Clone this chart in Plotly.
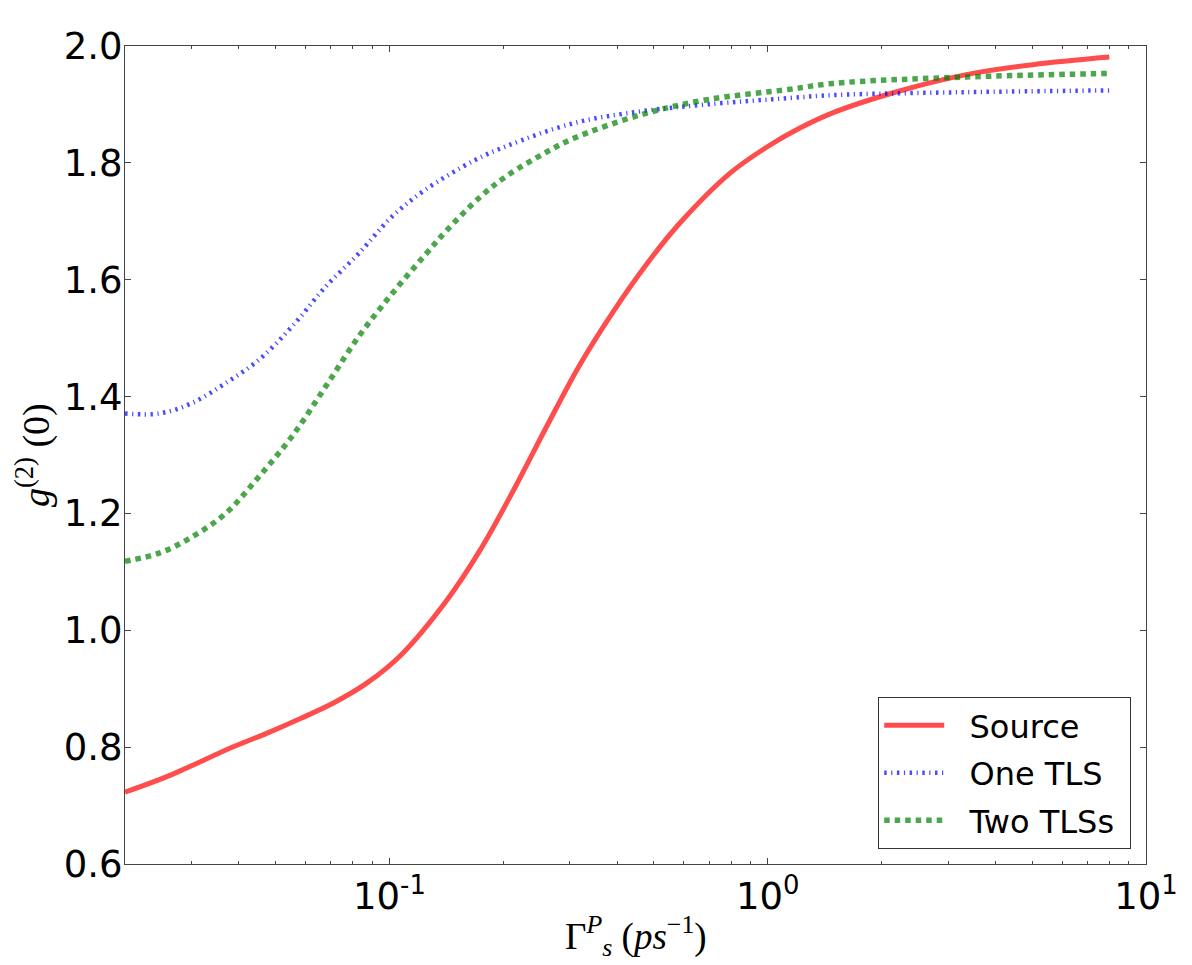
import plotly.graph_objects as go

# ---- data ----
source_x = [0.02, 0.0259, 0.0388, 0.0475, 0.0582, 0.0713, 0.0873, 0.107, 0.142, 0.174, 0.213,
            0.261, 0.319, 0.391, 0.479, 0.586, 0.794, 1.0, 1.22, 1.49, 2.23, 3.35, 5.02, 8.0]
source_y = [0.723, 0.750, 0.801, 0.824, 0.849, 0.876, 0.910, 0.957, 1.052, 1.138, 1.240,
            1.350, 1.455, 1.546, 1.627, 1.697, 1.782, 1.828, 1.860, 1.886, 1.923, 1.951,
            1.968, 1.981]

one_x = [0.02, 0.0246, 0.0301, 0.0369, 0.0452, 0.0553, 0.0678, 0.083, 0.1016, 0.1245, 0.1687,
         0.2046, 0.307, 0.460, 0.690, 1.146, 1.49, 3.35, 8.0]
one_y = [1.371, 1.371, 1.389, 1.423, 1.463, 1.520, 1.588, 1.645, 1.708, 1.754, 1.805,
         1.829, 1.868, 1.888, 1.900, 1.911, 1.916, 1.921, 1.924]

two_x = [0.02, 0.0246, 0.0301, 0.0369, 0.0452, 0.0553, 0.0678, 0.083, 0.1016, 0.1245, 0.142,
         0.174, 0.2046, 0.261, 0.307, 0.460, 0.690, 1.146, 1.49, 3.35, 8.0]
two_y = [1.118, 1.132, 1.160, 1.200, 1.263, 1.332, 1.417, 1.503, 1.576, 1.643, 1.685,
         1.742, 1.778, 1.819, 1.842, 1.882, 1.908, 1.926, 1.936, 1.947, 1.953]

series_names = ["Source", "One TLS", "Two TLSs"]
x_tickvals = [0.1, 1, 10]
x_ticktext = ["10<sup>-1</sup>", "10<sup>0</sup>", "10<sup>1</sup>"]
x_minor_tickvals = [0.02, 0.03, 0.04, 0.05, 0.06, 0.07, 0.08, 0.09,
                    0.2, 0.3, 0.4, 0.5, 0.6, 0.7, 0.8, 0.9,
                    2, 3, 4, 5, 6, 7, 8, 9]
y_tickvals = [0.6, 0.8, 1.0, 1.2, 1.4, 1.6, 1.8, 2.0]

pad = "\u00a0\u00a0"
fig = go.Figure()
fig.add_trace(go.Scatter(x=source_x, y=source_y, mode="lines",
                         name=pad + series_names[0] + "\u00a0", legendgroup="a",
                         line=dict(color="rgba(255,0,0,0.7)", width=5, shape="spline")))
fig.add_trace(go.Scatter(x=one_x, y=one_y, mode="lines",
                         name=pad + series_names[1] + "\u00a0", legendgroup="b",
                         line=dict(color="rgba(0,0,255,0.7)", width=4.5, shape="spline",
                                   dash="2.5px,4.5px,1.2px,4.5px")))
fig.add_trace(go.Scatter(x=two_x, y=two_y, mode="lines",
                         name=pad + series_names[2] + "\u00a0", legendgroup="c",
                         line=dict(color="rgba(0,128,0,0.7)", width=5.5, shape="spline",
                                   dash="5.5px,5px")))

tickfont = dict(family="DejaVu Sans", size=37, color="black")
axcol = "#444444"

fig.update_layout(
    width=1192, height=965,
    margin=dict(l=125, r=46, t=46, b=101),
    paper_bgcolor="white", plot_bgcolor="white",
    showlegend=True,
    legend=dict(x=0.9855, y=0.0185, xanchor="right", yanchor="bottom",
                bordercolor="#333333", borderwidth=1, bgcolor="white",
                font=dict(family="DejaVu Sans", size=32, color="black"),
                tracegroupgap=3, itemwidth=60),
    xaxis=dict(type="log", range=[-1.69897, 1], showgrid=False, zeroline=False,
               showline=True, linecolor=axcol, linewidth=1, mirror="ticks",
               ticks="inside", ticklen=6, tickcolor=axcol,
               tickvals=x_tickvals, ticktext=x_ticktext, tickfont=tickfont,
               minor=dict(tickvals=x_minor_tickvals, ticks="inside", ticklen=3,
                          tickcolor=axcol, showgrid=False)),
    yaxis=dict(range=[0.6, 2.0], showgrid=False, zeroline=False,
               showline=True, linecolor=axcol, linewidth=1, mirror="ticks",
               ticks="inside", ticklen=6, tickcolor=axcol, ticklabelstandoff=-6,
               tickvals=y_tickvals, tickformat=".1f", tickfont=tickfont),
)

fig.add_annotation(text="<i>g</i><sup>(2)</sup> (0)", xref="paper", yref="paper",
                   x=-0.09, y=0.5, xanchor="center", yanchor="middle", textangle=-90,
                   showarrow=False, font=dict(family="Liberation Serif", size=38, color="black"))
fig.add_annotation(text="Γ<sup><i>P</i></sup><sub><i>s</i></sub> (<i>ps</i><sup>−1</sup>)",
                   xref="paper", yref="paper", x=0.5, y=-0.088, xanchor="center",
                   yanchor="middle", showarrow=False,
                   font=dict(family="Liberation Serif", size=37, color="black"))

fig.write_html("out.html")
